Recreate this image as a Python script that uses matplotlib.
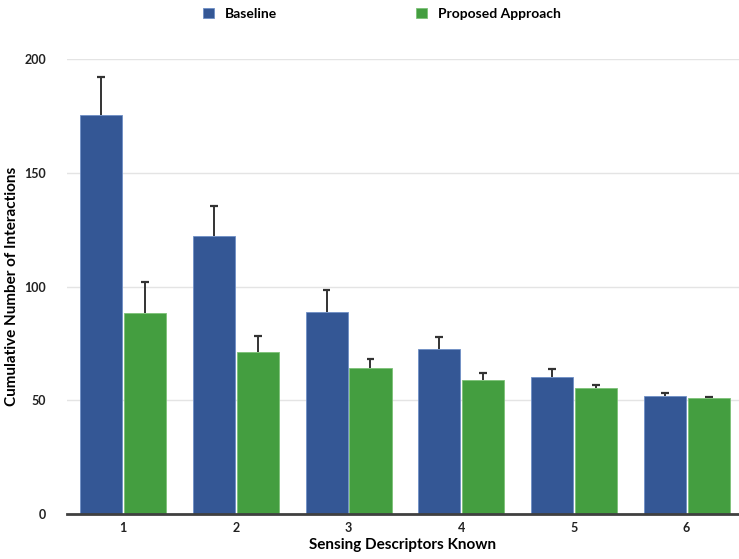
import numpy as np
import matplotlib.pyplot as plt

# mean cumulative interactions and upper error per number of known descriptors
descriptors = ["1", "2", "3", "4", "5", "6"]
baseline = [175.5, 122.0, 88.6, 72.5, 60.2, 51.8]
baseline_err = [16.5, 13.4, 9.8, 5.4, 3.7, 1.6]
proposed = [88.4, 71.2, 64.0, 59.0, 55.2, 51.0]
proposed_err = [13.6, 7.2, 4.1, 2.8, 1.5, 0.5]

BLUE = "#345795"
GREEN = "#449e40"

plt.rcParams["font.family"] = ["Lato", "DejaVu Sans"]
plt.rcParams["font.weight"] = "bold"

fig = plt.figure(figsize=(7.39, 5.59), dpi=100)
W, H = 739, 559
ax = fig.add_axes([67 / W, (H - 514) / H, (739 - 67) / W, (514 - 59) / H])

x = np.arange(1, len(descriptors) + 1)
width = 0.373
off = 0.195
cap = 0.035


def draw_bars(pos, vals, errs, color, edge, label):
    ax.bar(pos, vals, width, color=color, edgecolor=edge, linewidth=0.6,
           label=label, zorder=3)
    tops = np.array(vals) + np.array(errs)
    # upper whisker only, with a short cap
    ax.vlines(pos, vals, tops, color="#333333", linewidth=1.4, zorder=2)
    ax.hlines(tops, pos - cap, pos + cap, color="#333333", linewidth=1.6, zorder=2)


draw_bars(x - off, baseline, baseline_err, BLUE, "#6f8fc6", "Baseline")
draw_bars(x + off, proposed, proposed_err, GREEN, "#7cc277", "Proposed Approach")

ax.set_ylim(0, 200)
ax.set_xlim(0.502, 6.465)
ax.set_yticks([0, 50, 100, 150, 200])
ax.set_xticks(x)
ax.set_xticklabels(descriptors)
for y in [50, 100, 150, 200]:
    ax.axhline(y, color="#e4e4e4", linewidth=1, zorder=1)

for s in ["top", "right", "left"]:
    ax.spines[s].set_visible(False)
ax.spines["bottom"].set_color("#404040")
ax.spines["bottom"].set_linewidth(2)
ax.spines["bottom"].set_zorder(4)
ax.tick_params(axis="both", length=0, labelsize=9, colors="#222222")
ax.tick_params(axis="y", pad=15)
ax.tick_params(axis="x", pad=6)

ax.set_xlabel("Sensing Descriptors Known", fontsize=11, fontweight="bold", labelpad=3)
ax.set_ylabel("Cumulative Number of Interactions", fontsize=11, fontweight="bold",
              va="center")
ax.yaxis.set_label_coords(-55 / 672, 0.5)

fig.legend(loc="upper center", bbox_to_anchor=(382 / W, 1.008), ncol=2, frameon=False,
           fontsize=10, handlelength=0.75, handleheight=0.75, columnspacing=10.0,
           handletextpad=0.8)

fig.savefig("out.png", dpi=100)
